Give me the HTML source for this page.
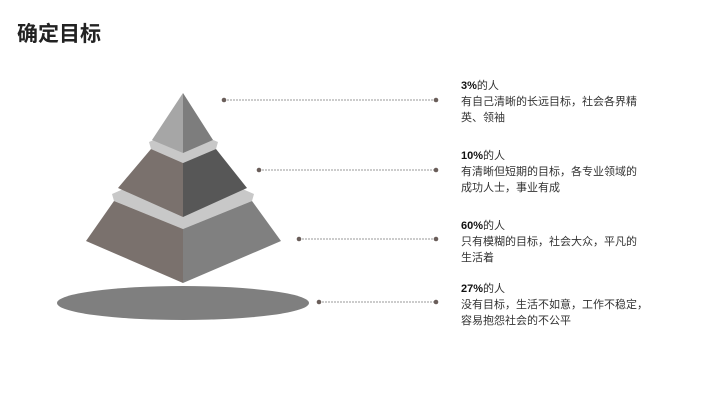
<!DOCTYPE html>
<html><head><meta charset="utf-8"><style>
body{margin:0;width:720px;height:405px;background:#fff;overflow:hidden;position:relative;font-family:"Liberation Sans","Noto Sans CJK SC",sans-serif;color:#222}
.t{position:absolute;left:17px;top:18px;font-size:21px;font-weight:bold;color:#222}
.b{position:absolute;left:461px;font-size:11px;line-height:16px;color:#333}
.b b{color:#111}
</style></head><body>
<div class="t">确定目标</div>
<svg width="720" height="405" style="position:absolute;left:0;top:0">
<ellipse cx="183" cy="303" rx="126" ry="17" fill="#7f7f7f"/>
<!-- bottom tier -->
<polygon points="112,194 183,163 254,194 252,201 183,229 114,201" fill="#c8c8c8"/>
<polygon points="114,201 183,229 183,283 86,241" fill="#7a716d"/>
<polygon points="183,229 252,201 281,241 183,283" fill="#808080"/>
<!-- middle tier -->
<polygon points="149,142 183,127 218,142 216,149 183,163 151,149" fill="#c8c8c8"/>
<polygon points="151,149 183,163 183,217 118,188" fill="#7a716d"/>
<polygon points="183,163 216,149 247,188 183,217" fill="#575757"/>
<!-- top -->
<polygon points="183,93 152,140 183,153" fill="#a6a6a6"/>
<polygon points="183,93 213,140 183,153" fill="#7d7d7d"/>
<g stroke="#999" stroke-width="1" stroke-dasharray="2,1">
<line x1="224" y1="100" x2="436" y2="100"/>
<line x1="259" y1="170" x2="436" y2="170"/>
<line x1="299" y1="239" x2="436" y2="239"/>
<line x1="319" y1="302" x2="436" y2="302"/>
</g>
<g fill="#6a5e5a">
<circle cx="224" cy="100" r="2.3"/><circle cx="436" cy="100" r="2.3"/>
<circle cx="259" cy="170" r="2.3"/><circle cx="436" cy="170" r="2.3"/>
<circle cx="299" cy="239" r="2.3"/><circle cx="436" cy="239" r="2.3"/>
<circle cx="319" cy="302" r="2.3"/><circle cx="436" cy="302" r="2.3"/>
</g>
</svg>
<div class="b" style="top:78px"><b>3%</b>的人<br>有自己清晰的长远目标，社会各界精<br>英、领袖</div>
<div class="b" style="top:148px"><b>10%</b>的人<br>有清晰但短期的目标，各专业领域的<br>成功人士，事业有成</div>
<div class="b" style="top:218px"><b>60%</b>的人<br>只有模糊的目标，社会大众，平凡的<br>生活着</div>
<div class="b" style="top:281px"><b>27%</b>的人<br>没有目标，生活不如意，工作不稳定，<br>容易抱怨社会的不公平</div>
</body></html>
